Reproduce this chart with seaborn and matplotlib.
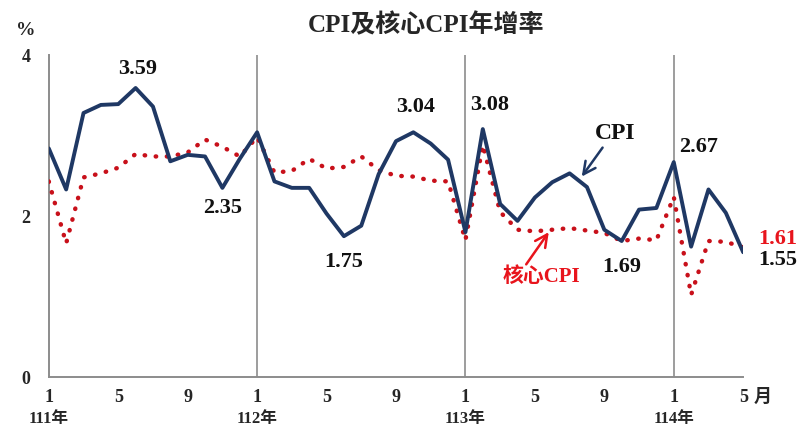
import pandas as pd
import matplotlib.pyplot as plt
import seaborn as sns

# CPI and core CPI year-on-year growth, 111/1 - 114/5 (monthly)
cpi = [2.84, 2.33, 3.28, 3.38, 3.39, 3.59, 3.36, 2.68, 2.76, 2.74, 2.35, 2.71,
       3.04, 2.43, 2.35, 2.35, 2.03, 1.75, 1.88, 2.52, 2.93, 3.04, 2.90, 2.70,
       1.80, 3.08, 2.15, 1.94, 2.23, 2.42, 2.53, 2.36, 1.83, 1.69, 2.08, 2.10,
       2.67, 1.62, 2.33, 2.04, 1.55]
core = [2.43, 1.66, 2.48, 2.53, 2.60, 2.77, 2.74, 2.74, 2.79, 2.95, 2.86, 2.74,
        2.98, 2.54, 2.56, 2.71, 2.59, 2.61, 2.74, 2.57, 2.50, 2.49, 2.44, 2.43,
        1.70, 2.88, 2.05, 1.83, 1.81, 1.83, 1.85, 1.82, 1.79, 1.69, 1.72, 1.70,
        2.24, 1.02, 1.69, 1.68, 1.61]
month_ticks = ['1', '5', '9', '1', '5', '9', '1', '5', '9', '1', '5']
year_labels = ['111年', '112年', '113年', '114年']

df = pd.DataFrame({'idx': range(len(cpi)), 'cpi': cpi, 'core': core})

sns.set_style('white')
plt.rcParams['font.family'] = ['Liberation Serif', 'Noto Sans CJK TC', 'DejaVu Sans']
plt.rcParams['font.weight'] = 'bold'

navy = '#1f3864'
red = '#c8101a'

fig = plt.figure(figsize=(8, 4.4), dpi=100)
ax = fig.add_axes([0.061, 0.143, 0.868, 0.732])

sns.lineplot(data=df, x='idx', y='core', ax=ax, color=red, linewidth=3.2,
             linestyle=(0, (0.1, 2.4)), dash_capstyle='round', zorder=3)
sns.lineplot(data=df, x='idx', y='cpi', ax=ax, color=navy, linewidth=2.8, zorder=4)

for m in (12, 24, 36):
    ax.axvline(m, color='#8c8c8c', linewidth=1.2, zorder=1)

ax.set_xlim(0, len(cpi) - 1)
ax.set_ylim(0, 4)
ax.set_yticks([0, 2, 4])
ax.set_yticklabels(['0', '2', '4'], fontsize=13, fontweight='bold')
ax.set_xticks(range(len(cpi)))
ax.set_xticklabels([])
ax.tick_params(axis='x', direction='in', length=4, color='#555555', width=1)
ax.tick_params(axis='y', direction='out', length=5, color='#555555', width=1, pad=8)
ax.set_xlabel('')
ax.set_ylabel('')
for s in ('top', 'right'):
    ax.spines[s].set_visible(False)
for s in ('left', 'bottom'):
    ax.spines[s].set_color('#8c8c8c')
    ax.spines[s].set_linewidth(1.4)

# month ticks and year labels below the axis
for i, lab in zip(range(0, len(cpi), 4), month_ticks):
    ax.text(i, -0.25, lab, ha='center', va='center', fontsize=13, fontweight='bold')
for k, lab in enumerate(year_labels):
    ax.text(k * 12, -0.52, lab, ha='center', va='center', fontsize=12, fontweight='bold')
ax.text(41.1, -0.25, '月', ha='center', va='center', fontsize=13, fontweight='bold')
ax.text(-1.3, 4.3, '%', ha='center', va='center', fontsize=14, fontweight='bold')

fig.suptitle('CPI及核心CPI年增率', x=0.532, y=0.97, fontsize=18, fontweight='bold')

# value labels
lab_kw = dict(ha='center', va='center', fontsize=16, fontweight='bold', color='#111111')
ax.text(5.1, 3.83, '3.59', **lab_kw)
ax.text(10.0, 2.10, '2.35', **lab_kw)
ax.text(17.0, 1.43, '1.75', **lab_kw)
ax.text(21.1, 3.35, '3.04', **lab_kw)
ax.text(25.4, 3.38, '3.08', **lab_kw)
ax.text(37.4, 2.86, '2.67', **lab_kw)
ax.text(33.0, 1.37, '1.69', **lab_kw)
ax.text(42.0, 1.45, '1.55', clip_on=False, **lab_kw)
ax.text(42.0, 1.71, '1.61', clip_on=False, **{**lab_kw, 'color': '#e8141c'})

ax.text(32.6, 3.03, 'CPI', ha='center', va='center', fontsize=17, fontweight='bold', color='#111111')
ax.annotate('', xy=(30.7, 2.49), xytext=(31.9, 2.85),
            arrowprops=dict(arrowstyle='->', color=navy, lw=1.8, mutation_scale=22,
                            shrinkA=0, shrinkB=0))
ax.text(28.4, 1.24, '核心CPI', ha='center', va='center', fontsize=15, fontweight='bold',
        color='#e8141c')
ax.annotate('', xy=(28.8, 1.80), xytext=(27.5, 1.40),
            arrowprops=dict(arrowstyle='->', color='#e8141c', lw=1.8, mutation_scale=22,
                            shrinkA=0, shrinkB=0))

fig.savefig('out.png', dpi=100)
